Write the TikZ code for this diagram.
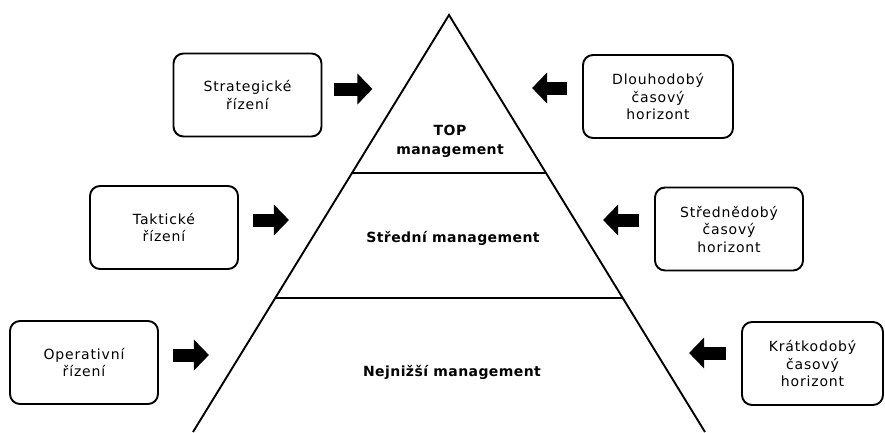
\documentclass[tikz,border=0pt]{standalone}
\usepackage{fontspec}
\setmainfont{DejaVu Sans}
\newfontfamily\boxfont[LetterSpace=6]{DejaVu Sans}
\newfontfamily\levelfont[LetterSpace=3]{DejaVu Sans Bold}
\usetikzlibrary{arrows.meta}
\tikzset{
  infobox/.style={draw, line width=1.9pt, rounded corners=10pt,
    minimum width=148pt, minimum height=83pt, align=center,
    font=\boxfont\fontsize{14}{17.5}\selectfont},
  levellabel/.style={align=center, font=\levelfont\fontsize{14}{19}\selectfont},
  blockarrow/.style={line width=13pt, -{Triangle[length=15pt,width=30pt]}},
}
\begin{document}
\begin{tikzpicture}[x=1pt,y=-1pt]
    \useasboundingbox (0,0) rectangle (885,432);
    %Pyramid
    \begin{scope}
    \clip (0,0) rectangle (885,432);
    \draw[line width=1.9pt] (193,432) -- (449,15) -- (705,432);
    \draw[line width=1.9pt] (352,173) -- (546,173);
    \draw[line width=1.9pt] (275,298) -- (623,298);
    \end{scope}

    \node[levellabel] (top) at (450,141) {TOP\\management};
    \node[levellabel] (stred) at (453,238) {Střední management};
    \node[levellabel] (nejniz) at (452,372) {Nejnižší management};

    %Left boxes
    \node[infobox] (strat) at (247.5,95) {Strategické\\řízení};
    \node[infobox] (takt) at (164,227.5) {Taktické\\řízení};
    \node[infobox] (oper) at (84,362.5) {Operativní\\řízení};

    %Right boxes
    \node[infobox, minimum width=150pt] (dlouho) at (658,96.5) {Dlouhodobý\\časový\\horizont};
    \node[infobox] (strednedoby) at (729,229) {Střednědobý\\časový\\horizont};
    \node[infobox, minimum width=141pt] (kratko) at (812.5,363.5) {Krátkodobý\\časový\\horizont};

    %Arrows
    \draw[blockarrow] ([xshift=12pt,yshift=6pt]strat.east) -- ++(38pt,0);
    \draw[blockarrow] ([xshift=14pt,yshift=7.5pt]takt.east) -- ++(36pt,0);
    \draw[blockarrow] ([xshift=14pt,yshift=7.5pt]oper.east) -- ++(36pt,0);
    \draw[blockarrow] ([xshift=-15pt,yshift=8.5pt]dlouho.west) -- ++(-35pt,0);
    \draw[blockarrow] ([xshift=-15pt,yshift=9pt]strednedoby.west) -- ++(-36pt,0);
    \draw[blockarrow] ([xshift=-15pt,yshift=10.5pt]kratko.west) -- ++(-37pt,0);
\end{tikzpicture}
\end{document}
